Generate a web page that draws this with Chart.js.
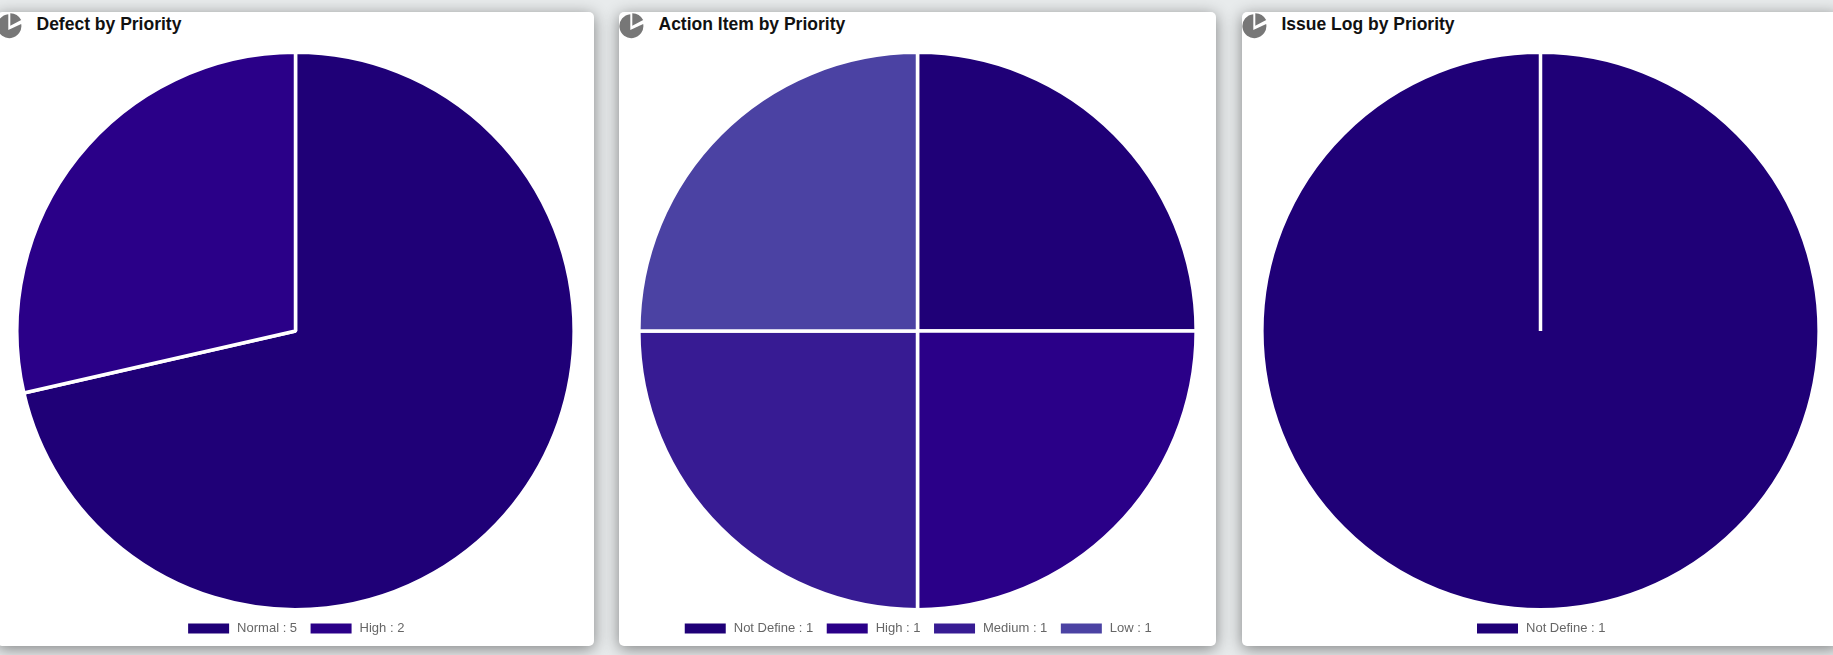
<!DOCTYPE html>
<html><head><meta charset="utf-8">
<script src="https://cdn.jsdelivr.net/npm/chart.js@4/dist/chart.umd.min.js"></script>
<style>
html,body{margin:0;padding:0;width:1833px;height:655px;overflow:hidden;background:#e8ebec;font-family:"Liberation Sans",Arial,sans-serif}
.card{position:absolute;top:12px;width:597px;height:634px;background:#fff;border-radius:5px;box-shadow:0 3px 16px rgba(0,0,0,.45)}
.title{position:absolute;left:39.5px;top:1px;font-weight:bold;font-size:17.5px;line-height:22px;color:#111;white-space:nowrap}
svg{position:absolute;left:0;top:0}
.wrap{position:absolute;left:0;top:40px;width:597px;height:593px}
</style></head><body>
<div id="root"></div>
<script>
const titles=["Defect by Priority","Action Item by Priority","Issue Log by Priority"];
const cardLefts=[-3,619,1242];
const defectLabels=["Normal","High"];
const defectValues=[5,2];
const actionLabels=["Not Define","High","Medium","Low"];
const actionValues=[1,1,1,1];
const issueLabels=["Not Define"];
const issueValues=[1];
const palette=["#1f0077","#2a0088","#371b93","#4b42a3"];
const sets=[[defectLabels,defectValues],[actionLabels,actionValues],[issueLabels,issueValues]];
const root=document.getElementById('root');
sets.forEach(([labels,values],i)=>{
  const card=document.createElement('div');card.className='card';card.style.left=cardLefts[i]+'px';
  card.innerHTML='<svg width="28" height="28" viewBox="0 0 28 28"><path d="M11.3 2.2A12 12 0 1 0 24.2 12L11.3 18Z" fill="#777"/><path d="M13.3 1.2A13 13 0 0 1 24.2 8L13.3 13.8Z" fill="#777"/></svg><div class="title">'+titles[i]+'</div><div class="wrap"><canvas></canvas></div>';
  root.appendChild(card);
  new Chart(card.querySelector('canvas'),{type:'pie',
    data:{labels:labels,datasets:[{data:values,backgroundColor:palette.slice(0,values.length),borderColor:'#fff',borderWidth:3.5}]},
    options:{responsive:true,maintainAspectRatio:false,animation:false,radius:'100.5%',
      plugins:{tooltip:{enabled:false},
        legend:{position:'bottom',labels:{font:{family:'"Liberation Sans"',size:13},color:'#666',boxWidth:44,boxHeight:13,padding:12,
          generateLabels(c){return labels.map((l,k)=>({text:l+' : '+values[k],fillStyle:palette[k],strokeStyle:'#fff',lineWidth:3,fontColor:'#666',hidden:false,index:k}));}}}}}});
});
</script></body></html>
